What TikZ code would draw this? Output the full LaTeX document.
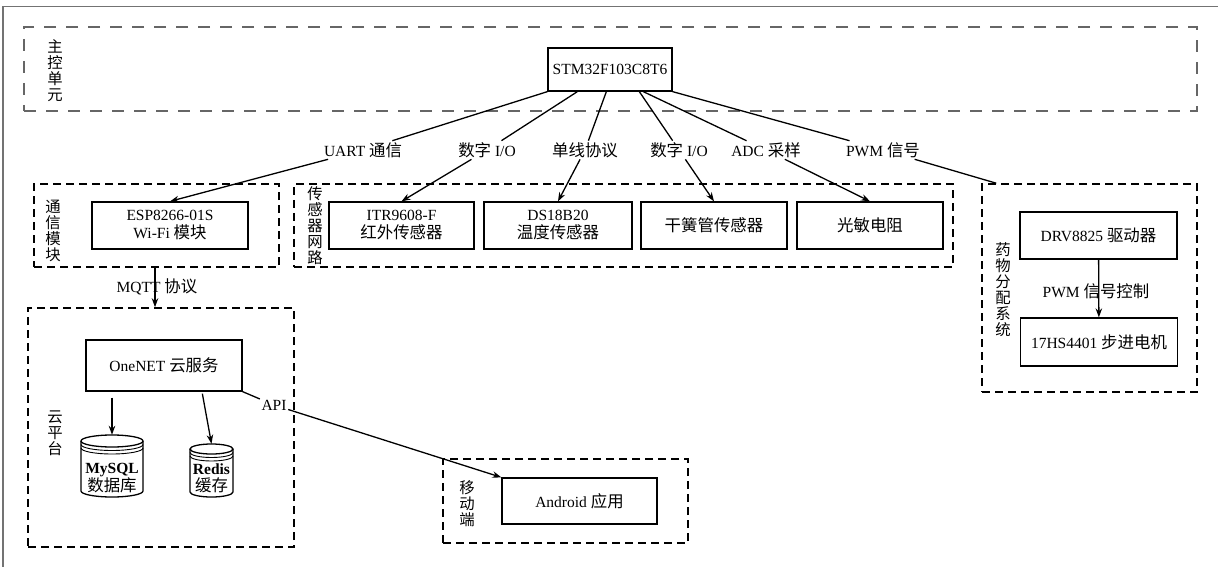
\documentclass[tikz,border=0pt]{standalone}
\usepackage{fontspec}
\setmainfont{Liberation Serif}
\newfontfamily\cjk[Scale=1.06]{Noto Sans CJK SC}
\newcommand{\zhs}[1]{{\cjk #1}}
\usetikzlibrary{arrows.meta,calc}
\begin{document}
\begin{tikzpicture}[x=1pt,y=-1pt,
  font=\fontsize{15.5}{18}\selectfont,
  box/.style={draw, line width=1.3pt, align=center, inner sep=0pt},
  grp/.style={draw, line width=1.6pt, dash pattern=on 8pt off 5pt, inner sep=0pt},
  grpmain/.style={draw=black!60, line width=1.6pt, dash pattern=on 12pt off 10pt, inner sep=0pt},
  vlab/.style={align=center, inner sep=0pt, font=\cjk\fontsize{14.5}{16}\selectfont},
  lab/.style={inner sep=1.5pt},
  arr/.style={line width=1.3pt, -{Stealth[length=9pt,width=6.5pt]}},
  ln/.style={line width=1.3pt},
  cyl/.style={line width=1.3pt}
]
\useasboundingbox (0,0) rectangle (1218,567);
\draw[black!55, line width=1.3pt] (3,567) -- (3,6.5) -- (1218,6.5);

% groups
\node[grpmain, minimum width=1173pt, minimum height=84pt] (gmain) at (610.5,69) {};
\node[grp, minimum width=245pt, minimum height=83pt] (gcomm) at (156.5,225.5) {};
\node[grp, minimum width=659pt, minimum height=83pt] (gsens) at (623.5,225.5) {};
\node[grp, minimum width=215pt, minimum height=208pt] (gmed) at (1089.5,288) {};
\node[grp, minimum width=266pt, minimum height=239pt] (gcloud) at (161,427.5) {};
\node[grp, minimum width=245pt, minimum height=84pt] (gmob) at (565.5,501) {};

% group labels
\node[vlab] (vmain) at (55,71) {主\\控\\单\\元};
\node[vlab] (vcomm) at (53,231) {通\\信\\模\\块};
\node[vlab] (vsens) at (315,226) {传\\感\\器\\网\\路};
\node[vlab] (vmed) at (1003,290) {药\\物\\分\\配\\系\\统};
\node[vlab] (vcloud) at (55,433) {云\\平\\台};
\node[vlab] (vmob) at (467,504) {移\\动\\端};

% boxes
\node[box, minimum width=124pt, minimum height=43pt] (stm) at (610,69.5) {STM32F103C8T6};
\node[box, minimum width=156pt, minimum height=47pt] (esp) at (170,225.5) {ESP8266-01S\\Wi-Fi \zhs{模块}};
\node[box, minimum width=145pt, minimum height=47pt] (itr) at (401.5,225.5) {ITR9608-F\\\zhs{红外传感器}};
\node[box, minimum width=148pt, minimum height=47pt] (ds) at (558,225.5) {DS18B20\\\zhs{温度传感器}};
\node[box, minimum width=146pt, minimum height=47pt] (gan) at (714,225.5) {\zhs{干簧管传感器}};
\node[box, minimum width=146pt, minimum height=47pt] (gm) at (870,225.5) {\zhs{光敏电阻}};
\node[box, minimum width=157pt, minimum height=47pt] (drv) at (1098.5,235.5) {DRV8825 \zhs{驱动器}};
\node[box, minimum width=157pt, minimum height=48pt] (motor) at (1099,342) {17HS4401 \zhs{步进电机}};
\node[box, minimum width=156pt, minimum height=51pt] (one) at (164,365.5) {OneNET \zhs{云服务}};
\node[box, minimum width=155pt, minimum height=46pt] (android) at (579.5,501) {Android \zhs{应用}};

% edge labels
\node[lab] (l1) at (363,150) {UART \zhs{通信}};
\node[lab] (l2) at (487,150) {\zhs{数字} I/O};
\node[lab] (l3) at (585,150) {\zhs{单线协议}};
\node[lab] (l4) at (679,150) {\zhs{数字} I/O};
\node[lab] (l5) at (766,150) {ADC \zhs{采样}};
\node[lab] (l6) at (883,150) {PWM \zhs{信号}};

% edges from STM
\draw[arr] (stm.south west) -- (l1) -- (esp.north);
\draw[arr] ($(stm.south west)+(30,0)$) -- (l2) -- (itr.north);
\draw[arr] ($(stm.south west)+(59,0)$) -- (l3) -- (ds.north);
\draw[arr] ($(stm.south west)+(92,0)$) -- (l4) -- (gan.north);
\draw[arr] ($(stm.south west)+(96,0)$) -- (l5) -- (gm.north);
\draw[ln] (stm.south east) -- (l6) -- ($(gmed.north west)+(15,0)$);

% drv -> motor
\draw[arr] (drv) -- (motor);
\node[lab] (pwmc) at (1096,291) {PWM \zhs{信号控制}};

% MQTT
\draw[arr] ([xshift=-1.5pt]gcomm.south) -- ([xshift=-1.5pt]gcomm.south |- gcloud.north);
\node[lab] (mqtt) at (157,287) {MQTT \zhs{协议}};

% cylinders
\node[minimum width=62pt, minimum height=62pt, inner sep=0pt] (mysql) at (112,466) {};
\draw[cyl, fill=white] (81,441) -- (81,491) arc[start angle=180,end angle=360,x radius=31pt,y radius=6pt] -- (143,441);
\draw[cyl] (112,441) ellipse[x radius=31pt,y radius=6pt];
\draw[line width=0.9pt] (81,444.5) arc[start angle=180,end angle=360,x radius=31pt,y radius=6pt];
\draw[line width=0.9pt] (81,448) arc[start angle=180,end angle=360,x radius=31pt,y radius=6pt];
\node[align=center, inner sep=0pt, font=\fontsize{15.5}{17}\selectfont] (mysqlt) at (112,478) {\textbf{MySQL}\\\zhs{数据库}};

\node[minimum width=43pt, minimum height=53pt, inner sep=0pt] (redis) at (211.5,470.5) {};
\draw[cyl, fill=white] (190,449) -- (190,492) arc[start angle=180,end angle=360,x radius=21.5pt,y radius=5pt] -- (233,449);
\draw[cyl] (211.5,449) ellipse[x radius=21.5pt,y radius=5pt];
\draw[line width=0.9pt] (190,452.5) arc[start angle=180,end angle=360,x radius=21.5pt,y radius=5pt];
\draw[line width=0.9pt] (190,456) arc[start angle=180,end angle=360,x radius=21.5pt,y radius=5pt];
\node[align=center, inner sep=0pt, font=\fontsize{15.5}{17}\selectfont] (redist) at (211.5,478) {\textbf{Redis}\\\zhs{缓存}};

\draw[arr] ([yshift=-6pt]one.south -| mysql.north) -- (mysql.north);
\draw[arr] ($(one.south west)+(117,2)$) -- (redis.north);

% API
\node[lab] (api) at (274,405) {API};
\draw[arr] (one.south east) -- (api) -- (android.north west);
\end{tikzpicture}
\end{document}
